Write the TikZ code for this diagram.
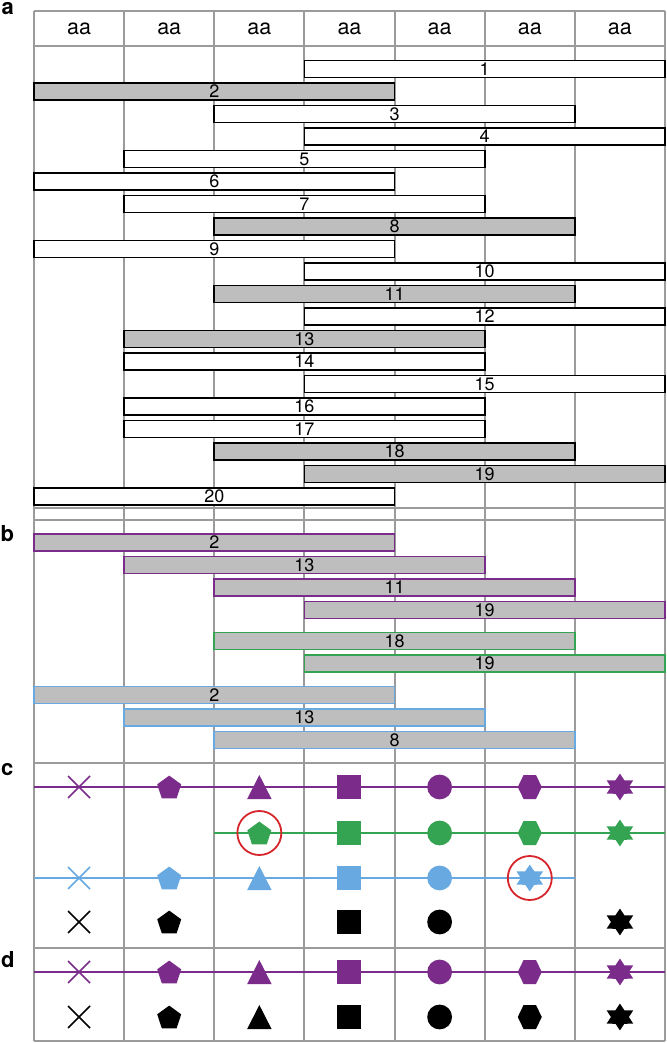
\documentclass[tikz,border=0pt]{standalone}
\usepackage{fontspec}
\setmainfont{TeX Gyre Heros}
\definecolor{gridc}{HTML}{9B9B9B}
\definecolor{cpurple}{HTML}{7B2C8B}
\definecolor{cgreen}{HTML}{35A452}
\definecolor{cblue}{HTML}{67A9E0}
\definecolor{cred}{HTML}{D7262B}
\definecolor{barfill}{HTML}{BEBEBE}
\tikzset{
  gridline/.style={draw=gridc, line width=2pt},
  barbox/.style={draw, line width=1.8pt, rectangle, inner sep=0pt, outer sep=0pt,
    minimum width=360.56pt, minimum height=17pt, anchor=west,
    font=\fontsize{18}{20}\selectfont},
  hdr/.style={anchor=base, inner sep=0pt, font=\fontsize{21.5}{24}\selectfont},
  panel/.style={anchor=base west, inner sep=0pt, font=\bfseries\fontsize{22}{24}\selectfont},
  rowline/.style={line width=1.5pt},
  ring/.style={draw=cred, line width=1.8pt, circle, minimum size=44pt, inner sep=0pt},
  mcross/.pic={\draw[line width=1.6pt] (-11,-11) -- (11,11) (-11,11) -- (11,-11);},
  mpent/.pic={\fill (0,-11.4) -- (12,-2.7) -- (7.4,11.4) -- (-7.4,11.4) -- (-12,-2.7) -- cycle;},
  mtri/.pic={\fill (0,-12) -- (12.2,12) -- (-12.2,12) -- cycle;},
  msq/.pic={\fill (-12,-12) rectangle (12,12);},
  mcirc/.pic={\fill (0,0) circle (12.4);},
  mhex/.pic={\fill (-12,0) -- (-6.2,-12) -- (6.2,-12) -- (12,0) -- (6.2,12) -- (-6.2,12) -- cycle;},
  mstar/.pic={\begin{scope}[xscale=1.15]
    \fill (-90:13.4) -- (-60:7.8) -- (-30:13.4) -- (0:7.8) -- (30:13.4) -- (60:7.8)
      -- (90:13.4) -- (120:7.8) -- (150:13.4) -- (180:7.8) -- (210:13.4) -- (240:7.8) -- cycle;
    \end{scope}},
}
\begin{document}
\begin{tikzpicture}[x=1pt,y=-1pt]
\useasboundingbox (0,0) rectangle (666,1043);
\fill[white] (0,0) rectangle (666,1043);
% grid
\foreach \k in {0,...,7} {
  \draw[gridline] ({34+90.14*\k},11) -- ({34+90.14*\k},1041);
}
\foreach \yy in {11,46,508,520,763,948,1041} {
  \draw[gridline] (34,\yy) -- (665,\yy);
}
% header
\foreach \k in {0,...,6} {
  \node[hdr] (h\k) at ({79.07+90.14*\k},35) {aa};
}
% panel labels
\node[panel] (la) at (1.5,15) {a};
\node[panel] (lb) at (0.5,541.5) {b};
\node[panel] (lc) at (1,775) {c};
\node[panel] (ld) at (1,967) {d};
% section a bars
\foreach \n/\s/\f in {1/3/white, 2/0/barfill, 3/2/white, 4/3/white, 5/1/white,
  6/0/white, 7/1/white, 8/2/barfill, 9/0/white, 10/3/white, 11/2/barfill,
  12/3/white, 13/1/barfill, 14/1/white, 15/3/white, 16/1/white, 17/1/white,
  18/2/barfill, 19/3/barfill, 20/0/white} {
  \node[barbox, fill=\f] (a\n) at ({34+90.14*\s},{69+22.5*(\n-1)}) {\n};
}
% section b bars
\foreach \i/\n/\s/\c/\yy in {1/2/0/cpurple/542.5, 2/13/1/cpurple/565,
  3/11/2/cpurple/587.5, 4/19/3/cpurple/610, 5/18/2/cgreen/641,
  6/19/3/cgreen/663.5, 7/2/0/cblue/695, 8/13/1/cblue/717.5, 9/8/2/cblue/740} {
  \node[barbox, fill=barfill, draw=\c] (b\i) at ({34+90.14*\s},\yy) {\n};
}
% section c/d lines
\coordinate (c1L) at (34,787);   \coordinate (c1R) at (665,787);
\coordinate (c2L) at (214.28,833); \coordinate (c2R) at (665,833);
\coordinate (c3L) at (34,878);   \coordinate (c3R) at (574.84,878);
\coordinate (d1L) at (34,972);   \coordinate (d1R) at (665,972);
\draw[rowline, cpurple] (c1L) -- (c1R);
\draw[rowline, cgreen] (c2L) -- (c2R);
\draw[rowline, cblue] (c3L) -- (c3R);
\draw[rowline, cpurple] (d1L) -- (d1R);
% markers
\foreach \k/\m in {0/mcross,1/mpent,2/mtri,3/msq,4/mcirc,5/mhex,6/mstar} {
  \pic[color=cpurple] (pc1\k) at ({79.07+90.14*\k},787) {\m};
  \pic[color=cpurple] (pd1\k) at ({79.07+90.14*\k},972) {\m};
  \pic[color=black] (pd2\k) at ({79.07+90.14*\k},1017) {\m};
}
\foreach \k/\m in {2/mpent,3/msq,4/mcirc,5/mhex,6/mstar} {
  \pic[color=cgreen] (pc2\k) at ({79.07+90.14*\k},833) {\m};
}
\foreach \k/\m in {0/mcross,1/mpent,2/mtri,3/msq,4/mcirc,5/mstar} {
  \pic[color=cblue] (pc3\k) at ({79.07+90.14*\k},878) {\m};
}
\foreach \k/\m in {0/mcross,1/mpent,3/msq,4/mcirc,6/mstar} {
  \pic[color=black] (pc4\k) at ({79.07+90.14*\k},922) {\m};
}
% red rings
\node[ring] (r1) at (259.35,833) {};
\node[ring] (r2) at (529.77,878) {};
\end{tikzpicture}
\end{document}
